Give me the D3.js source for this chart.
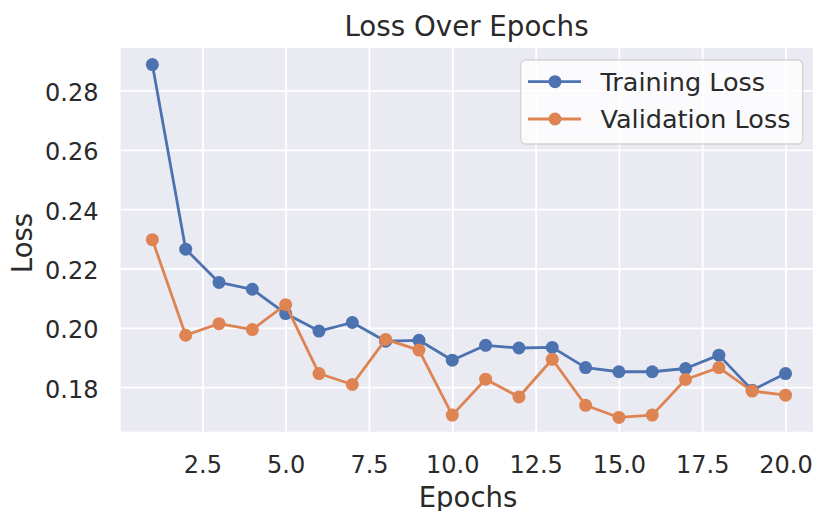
<!DOCTYPE html>
<html>
<head>
<meta charset="utf-8">
<script src="https://cdn.jsdelivr.net/npm/d3@7"></script>
<style>
  html, body { margin: 0; padding: 0; background: #ffffff; }
  svg { display: block; }
  text { font-family: "DejaVu Sans", sans-serif; fill: #2a2a2a; }
</style>
</head>
<body>
<svg id="chart" width="813" height="511"></svg>
<script>
// Loss per epoch
const epochs = [1, 2, 3, 4, 5, 6, 7, 8, 9, 10, 11, 12, 13, 14, 15, 16, 17, 18, 19, 20];
const trainingLoss = [0.2887, 0.2265, 0.2153, 0.2130, 0.2048, 0.1989, 0.2018, 0.1955, 0.1958, 0.1891,
                      0.1941, 0.1932, 0.1934, 0.1866, 0.1852, 0.1852, 0.1863, 0.1908, 0.1790, 0.1846];
const validationLoss = [0.2297, 0.1975, 0.2014, 0.1994, 0.2078, 0.1846, 0.1809, 0.1961, 0.1925, 0.1706,
                        0.1827, 0.1767, 0.1894, 0.1739, 0.1698, 0.1706, 0.1826, 0.1866, 0.1787, 0.1773];
const xTicks = [2.5, 5.0, 7.5, 10.0, 12.5, 15.0, 17.5, 20.0];
const yTicks = [0.18, 0.20, 0.22, 0.24, 0.26, 0.28];
const xDomain = [0.05, 20.95];
const yDomain = [0.1650, 0.2943];
const seriesNames = ["Training Loss", "Validation Loss"];
const seriesColors = ["#4c72b0", "#dd8452"];

const svg = d3.select("#chart");
const plot = { left: 120.7, right: 817.2, top: 48, bottom: 431.7 };

const x = d3.scaleLinear().domain(xDomain).range([plot.left, plot.right]);
const y = d3.scaleLinear().domain(yDomain).range([plot.bottom, plot.top]);

// Axes background
svg.append("rect")
  .attr("x", plot.left).attr("y", plot.top)
  .attr("width", plot.right - plot.left).attr("height", plot.bottom - plot.top)
  .attr("fill", "#eaeaf2");

// Grid lines via axis generators
const xGrid = d3.axisBottom(x).tickValues(xTicks).tickSize(-(plot.bottom - plot.top)).tickFormat("");
const yGrid = d3.axisLeft(y).tickValues(yTicks).tickSize(-(plot.right - plot.left)).tickFormat("");
svg.append("g").attr("transform", `translate(0,${plot.bottom})`).call(xGrid)
  .call(g => g.select(".domain").remove())
  .selectAll("line").attr("stroke", "#ffffff").attr("stroke-width", 1.8);
svg.append("g").attr("transform", `translate(${plot.left},0)`).call(yGrid)
  .call(g => g.select(".domain").remove())
  .selectAll("line").attr("stroke", "#ffffff").attr("stroke-width", 1.8);

// Tick labels
const xAxis = d3.axisBottom(x).tickValues(xTicks).tickSize(0).tickFormat(d3.format(".1f"));
svg.append("g").attr("transform", `translate(0,${plot.bottom})`).call(xAxis)
  .call(g => g.select(".domain").remove())
  .selectAll("text")
  .attr("y", 41.6).attr("dy", null)
  .style("font-size", "24px").style("font-family", "DejaVu Sans, sans-serif").attr("fill", "#2a2a2a");

const yAxis = d3.axisLeft(y).tickValues(yTicks).tickSize(0).tickFormat(d3.format(".2f"));
svg.append("g").attr("transform", `translate(${plot.left},0)`).call(yAxis)
  .call(g => g.select(".domain").remove())
  .selectAll("text")
  .attr("x", -22.2).attr("dy", null).attr("y", 10)
  .style("font-size", "24px").style("font-family", "DejaVu Sans, sans-serif").attr("fill", "#2a2a2a");

// Series lines and markers
const series = [trainingLoss, validationLoss];
const line = d3.line().x((d, i) => x(epochs[i])).y(d => y(d));

series.forEach((values, s) => {
  const g = svg.append("g");
  g.append("path")
    .datum(values)
    .attr("d", line)
    .attr("fill", "none")
    .attr("stroke", seriesColors[s])
    .attr("stroke-width", 2.8)
    .attr("stroke-linejoin", "round")
    .attr("stroke-linecap", "round");
  g.selectAll("circle")
    .data(values)
    .join("circle")
    .attr("cx", (d, i) => x(epochs[i]))
    .attr("cy", d => y(d))
    .attr("r", 6.5)
    .attr("fill", seriesColors[s]);
});

// Title and axis labels
svg.append("text")
  .attr("x", 466.5).attr("y", 35.7)
  .attr("text-anchor", "middle")
  .style("font-size", "27.7px")
  .text("Loss Over Epochs");

svg.append("text")
  .attr("x", 468).attr("y", 506.5)
  .attr("text-anchor", "middle")
  .style("font-size", "27.5px")
  .text("Epochs");

svg.append("text")
  .attr("transform", "translate(32,243) rotate(-90)")
  .attr("text-anchor", "middle")
  .style("font-size", "27.5px")
  .text("Loss");

// Legend
const legend = svg.append("g");
legend.append("rect")
  .attr("x", 520.7).attr("y", 60)
  .attr("width", 282).attr("height", 84)
  .attr("rx", 5)
  .attr("fill", "#ffffff").attr("fill-opacity", 0.8)
  .attr("stroke", "#cccccc").attr("stroke-opacity", 0.8).attr("stroke-width", 1.3);

const rowY = [81.7, 119];
seriesNames.forEach((name, s) => {
  legend.append("line")
    .attr("x1", 528).attr("x2", 581)
    .attr("y1", rowY[s]).attr("y2", rowY[s])
    .attr("stroke", seriesColors[s]).attr("stroke-width", 2.8);
  legend.append("circle")
    .attr("cx", 555).attr("cy", rowY[s]).attr("r", 6.5)
    .attr("fill", seriesColors[s]);
  legend.append("text")
    .attr("x", 600.5).attr("y", rowY[s] + 8.8)
    .style("font-size", "25.5px")
    .text(name);
});
</script>
</body>
</html>
